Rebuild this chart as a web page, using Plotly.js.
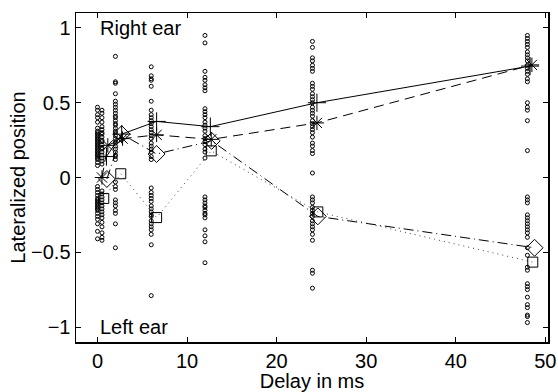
<!DOCTYPE html>
<html>
<head>
<meta charset="utf-8">
<script src="https://cdn.plot.ly/plotly-3.0.1.min.js"></script>
<style>html,body{margin:0;padding:0;background:#fff;}#chart{width:558px;height:392px;}</style>
</head>
<body>
<div id="chart"></div>
<script>
// individual responses (x = delay in ms)
const delays = [0, 0.5, 2, 6, 12, 24, 48];
const resp_0 = [0.47, 0.45, 0.42, 0.40, 0.37, 0.33, 0.31, 0.30, 0.29, 0.28, 0.27, 0.26, 0.25, 0.24, 0.23, 0.22, 0.21, 0.20, 0.19, 0.18, 0.17, 0.16, 0.15, 0.14, 0.13, 0.12, 0.10, 0.08, -0.06, -0.08, -0.10, -0.12, -0.14, -0.15, -0.16, -0.17, -0.18, -0.19, -0.20, -0.21, -0.22, -0.24, -0.26, -0.28, -0.31, -0.36, -0.41];
const resp_05 = [0.45, 0.43, 0.40, 0.37, 0.34, 0.32, 0.30, 0.29, 0.27, 0.25, 0.24, 0.22, 0.20, 0.19, 0.17, 0.15, 0.13, 0.11, 0.09, -0.09, -0.11, -0.13, -0.15, -0.17, -0.19, -0.21, -0.23, -0.25, -0.27, -0.30, -0.33, -0.37, -0.40, -0.42];
const resp_2 = [0.81, 0.64, 0.63, 0.56, 0.51, 0.49, 0.47, 0.45, 0.43, 0.41, 0.40, 0.38, 0.36, 0.35, 0.33, 0.31, 0.30, 0.28, 0.26, 0.24, 0.23, 0.21, 0.19, 0.17, 0.15, 0.14, 0.12, -0.03, -0.06, -0.08, -0.15, -0.17, -0.19, -0.22, -0.24, -0.31, -0.47];
const resp_6 = [0.74, 0.68, 0.66, 0.65, 0.61, 0.51, 0.45, 0.42, 0.40, 0.38, 0.36, 0.34, 0.32, 0.30, 0.28, 0.26, 0.23, 0.21, 0.19, 0.17, 0.14, 0.12, -0.07, -0.10, -0.12, -0.14, -0.16, -0.19, -0.21, -0.23, -0.25, -0.26, -0.29, -0.31, -0.33, -0.35, -0.38, -0.45, -0.79];
const resp_12 = [0.95, 0.90, 0.71, 0.67, 0.65, 0.62, 0.60, 0.58, 0.46, 0.44, 0.42, 0.40, 0.37, 0.35, 0.33, 0.31, 0.28, 0.26, 0.24, 0.22, 0.19, 0.17, 0.13, -0.13, -0.15, -0.17, -0.19, -0.20, -0.22, -0.24, -0.25, -0.27, -0.35, -0.39, -0.43, -0.57];
const resp_24 = [0.91, 0.87, 0.80, 0.78, 0.75, 0.73, 0.71, 0.63, 0.61, 0.59, 0.56, 0.54, 0.52, 0.50, 0.47, 0.45, 0.43, 0.41, 0.38, 0.36, 0.34, 0.32, 0.30, 0.27, 0.23, 0.21, 0.18, 0.16, 0.03, -0.13, -0.15, -0.17, -0.20, -0.22, -0.24, -0.26, -0.29, -0.31, -0.33, -0.35, -0.38, -0.42, -0.62, -0.64, -0.74];
const resp_48 = [0.95, 0.93, 0.91, 0.89, 0.87, 0.84, 0.82, 0.80, 0.78, 0.75, 0.73, 0.71, 0.69, 0.66, 0.64, 0.50, 0.47, 0.45, 0.38, 0.18, -0.13, -0.15, -0.17, -0.25, -0.27, -0.29, -0.31, -0.33, -0.35, -0.37, -0.40, -0.47, -0.52, -0.60, -0.62, -0.71, -0.73, -0.75, -0.80, -0.85, -0.87, -0.92, -0.93, -0.97];
const responses = [resp_0, resp_05, resp_2, resp_6, resp_12, resp_24, resp_48];

// mean curves (plotted slightly offset in x)
const plusX = [1.0, 2.7, 6.6, 12.6, 24.5, 48.3];
const plusY = [0.14, 0.29, 0.375, 0.34, 0.50, 0.745];
const starX = [0.5, 1.15, 2.8, 6.6, 12.7, 24.5, 48.5];
const starY = [0.0, 0.215, 0.26, 0.285, 0.255, 0.365, 0.753];
const diamX = [1.05, 2.7, 6.6, 12.75, 24.6, 48.8];
const diamY = [-0.01, 0.29, 0.157, 0.245, -0.26, -0.47];
const sqX = [0.7, 2.6, 6.6, 12.7, 24.6, 48.6];
const sqY = [-0.14, 0.025, -0.268, 0.178, -0.23, -0.566];

const xTicks = [0, 10, 20, 30, 40, 50];
const yTicks = [-1, -0.5, 0, 0.5, 1];

const ptsX = [], ptsY = [];
delays.forEach((d, i) => responses[i].forEach(v => { ptsX.push(d); ptsY.push(v); }));

const FONT = 'Liberation Sans, Arial, Helvetica, sans-serif';
const traces = [
  {x: ptsX, y: ptsY, mode: 'markers', type: 'scatter',
   marker: {symbol: 'circle-open', size: 4, color: '#000', line: {width: 1, color: '#000'}}},
  {x: plusX, y: plusY, mode: 'lines+markers', type: 'scatter',
   line: {color: '#000', width: 1},
   marker: {symbol: 'cross-thin-open', size: 13, color: '#000', line: {width: 1, color: '#000'}}},
  {x: starX, y: starY, mode: 'lines+markers', type: 'scatter',
   line: {color: '#000', width: 1, dash: '10px,6px'},
   marker: {symbol: 'asterisk-open', size: 12, color: '#000', line: {width: 1, color: '#000'}}},
  {x: diamX, y: diamY, mode: 'lines+markers', type: 'scatter',
   line: {color: '#000', width: 1, dash: '10px,4px,1px,4px'},
   marker: {symbol: 'diamond-open', size: 13, color: '#000', line: {width: 1, color: '#000'}}},
  {x: sqX, y: sqY, mode: 'lines+markers', type: 'scatter',
   line: {color: '#444', width: 1, dash: '1px,4px'},
   marker: {symbol: 'square-open', size: 10, color: '#000', line: {width: 1, color: '#000'}}}
];

const axisCommon = {
  showline: true, linecolor: '#000', linewidth: 1.5, mirror: 'ticks',
  ticks: 'inside', ticklen: 5, tickwidth: 1, tickcolor: '#000',
  showgrid: false, zeroline: false,
  tickfont: {family: FONT, size: 20, color: '#000'}
};

const layout = {
  width: 558, height: 392,
  margin: {l: 76, r: 10, t: 13, b: 50},
  paper_bgcolor: '#fff', plot_bgcolor: '#fff',
  showlegend: false,
  font: {family: FONT, size: 20, color: '#000'},
  xaxis: Object.assign({}, axisCommon, {
    range: [-2.4, 50.3], tickvals: xTicks, ticktext: xTicks.map(String),
    title: {text: 'Delay in ms', font: {family: FONT, size: 20, color: '#000'}, standoff: 8}
  }),
  yaxis: Object.assign({}, axisCommon, {
    range: [-1.1, 1.1], tickvals: yTicks, ticktext: ['\u22121', '\u22120.5', '0', '0.5', '1'],
    title: {text: 'Lateralized position', font: {family: FONT, size: 20, color: '#000'}, standoff: 0}
  }),
  annotations: [
    {x: 0, y: 1.0, xref: 'x', yref: 'y', text: 'Right ear', showarrow: false,
     xanchor: 'left', yanchor: 'middle', font: {family: FONT, size: 20, color: '#000'}},
    {x: 0, y: -1.0, xref: 'x', yref: 'y', text: 'Left ear', showarrow: false,
     xanchor: 'left', yanchor: 'middle', font: {family: FONT, size: 20, color: '#000'}}
  ]
};

Plotly.newPlot('chart', traces, layout, {displayModeBar: false, staticPlot: true});
</script>
</body>
</html>
